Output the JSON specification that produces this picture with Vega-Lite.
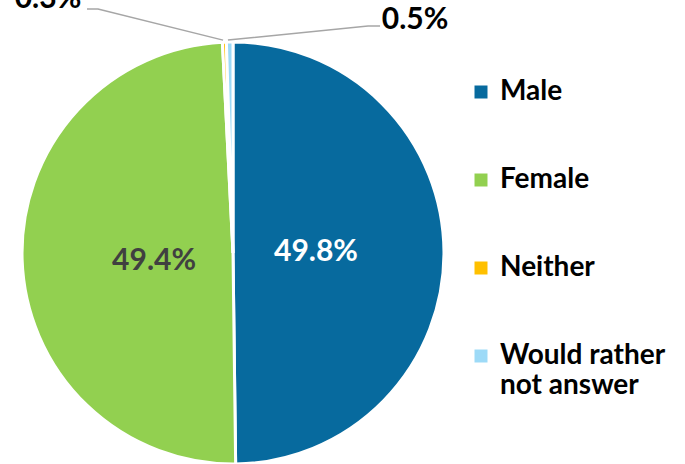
{
  "$schema": "https://vega.github.io/schema/vega-lite/v6.json",
  "width": 466,
  "height": 506,
  "autosize": "none",
  "padding": {"left": 0, "top": 0, "right": 219, "bottom": 0},
  "background": "white",
  "config": {"view": {"stroke": null}, "font": "Lato"},
  "datasets": {
    "pie": [
      {"g": "Male", "idx": 1, "v": 49.8, "label": "49.8%"},
      {"g": "Female", "idx": 2, "v": 49.4, "label": "49.4%"},
      {"g": "Neither", "idx": 3, "v": 0.3, "label": "0.3%"},
      {"g": "Would rather not answer", "idx": 4, "v": 0.5, "label": "0.5%"}
    ],
    "leaders": [
      {"label": "0.5%", "k": 1, "x": 0.697, "y": 1.076},
      {"label": "0.5%", "k": 2, "x": 0.64, "y": 1.076},
      {"label": "0.5%", "k": 3, "x": -0.024, "y": 1.009},
      {"label": "0.3%", "k": 1, "x": -0.692, "y": 1.156},
      {"label": "0.3%", "k": 2, "x": -0.64, "y": 1.156},
      {"label": "0.3%", "k": 3, "x": -0.047, "y": 1.009}
    ],
    "outside": [
      {"label": "0.5%", "x": 0.863, "y": 1.105},
      {"label": "0.3%", "x": -0.877, "y": 1.204}
    ]
  },
  "layer": [
    {
      "data": {"name": "pie"},
      "mark": {"type": "arc", "outerRadius": 211, "stroke": "white", "strokeWidth": 3},
      "encoding": {
        "theta": {"field": "v", "type": "quantitative", "stack": true},
        "order": {"field": "idx", "type": "quantitative"},
        "color": {
          "field": "g",
          "type": "nominal",
          "sort": ["Male", "Female", "Neither", "Would rather not answer"],
          "scale": {
            "domain": ["Male", "Female", "Neither", "Would rather not answer"],
            "range": ["#076a9e", "#92d050", "#ffc000", "#9ddaf7"]
          },
          "legend": {
            "title": null,
            "orient": "none",
            "legendX": 467,
            "legendY": 78,
            "padding": 0,
            "symbolType": "square",
            "symbolSize": 169,
            "symbolStrokeWidth": 0,
            "labelFont": "Lato",
            "labelFontSize": 28,
            "labelFontWeight": "bold",
            "labelColor": "#000000",
            "labelOffset": 5,
            "labelLimit": 300,
            "rowPadding": 60,
            "labelExpr": "datum.label == 'Would rather not answer' ? ['Would rather', 'not answer'] : datum.label"
          }
        }
      }
    },
    {
      "data": {"name": "pie"},
      "mark": {"type": "text", "radius": 83, "font": "Lato", "fontSize": 30, "fontWeight": "bold", "color": "white"},
      "encoding": {
        "theta": {"field": "v", "type": "quantitative", "stack": true},
        "order": {"field": "idx", "type": "quantitative"},
        "text": {"condition": {"test": "datum.g == 'Male'", "field": "label"}, "value": ""}
      }
    },
    {
      "data": {"name": "pie"},
      "mark": {"type": "text", "radius": 79, "dy": 6, "font": "Lato", "fontSize": 30, "fontWeight": "bold", "color": "#404040"},
      "encoding": {
        "theta": {"field": "v", "type": "quantitative", "stack": true},
        "order": {"field": "idx", "type": "quantitative"},
        "text": {"condition": {"test": "datum.g == 'Female'", "field": "label"}, "value": ""}
      }
    },
    {
      "data": {"name": "leaders"},
      "mark": {"type": "line", "color": "#a6a6a6", "strokeWidth": 1.5},
      "encoding": {
        "x": {"field": "x", "type": "quantitative", "scale": {"domain": [-1.1043, 1.1043], "nice": false, "zero": false}, "axis": null},
        "y": {"field": "y", "type": "quantitative", "scale": {"domain": [-1.1991, 1.1991], "nice": false, "zero": false}, "axis": null},
        "detail": {"field": "label"},
        "order": {"field": "k", "type": "quantitative"}
      }
    },
    {
      "data": {"name": "outside"},
      "mark": {"type": "text", "font": "Lato", "fontSize": 30, "fontWeight": "bold", "color": "#000000", "baseline": "middle"},
      "encoding": {
        "x": {"field": "x", "type": "quantitative", "axis": null},
        "y": {"field": "y", "type": "quantitative", "axis": null},
        "text": {"field": "label"}
      }
    }
  ]
}
